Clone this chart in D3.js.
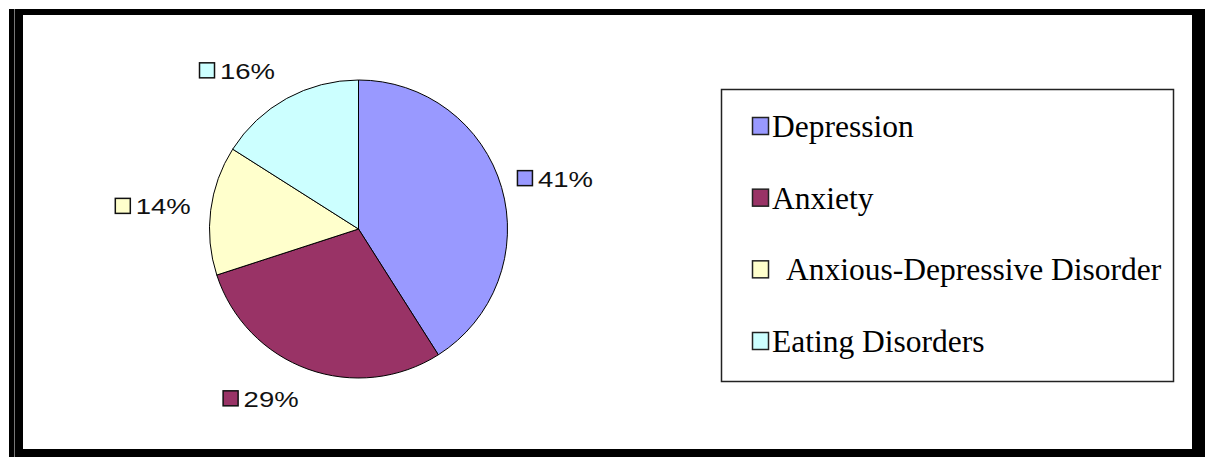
<!DOCTYPE html>
<html>
<head>
<meta charset="utf-8">
<script src="https://cdn.jsdelivr.net/npm/d3@7"></script>
<style>
  body { margin: 0; background: #fff; }
  svg { display: block; }
  .pct { font-family: 'Liberation Sans', Arial, sans-serif; font-size: 22px; fill: #111; }
  .leg { font-family: 'Liberation Serif', 'Times New Roman', serif; font-size: 31.5px; fill: #000; white-space: pre; }
</style>
</head>
<body>
<div id="chart"></div>
<script>
// data
var categories = ['Depression', 'Anxiety', 'Anxious-Depressive Disorder', 'Eating Disorders'];
var legendLabels = ['Depression', 'Anxiety', '  Anxious-Depressive Disorder', 'Eating Disorders'];
var shares = [41, 29, 14, 16];
var colors = ['#9999ff', '#993366', '#ffffcc', '#ccffff'];

var width = 1205, height = 457;

var svg = d3.select('#chart')
  .append('svg')
  .attr('width', width)
  .attr('height', height);

// frame
svg.append('rect').attr('x', 0).attr('y', 0).attr('width', width).attr('height', height).attr('fill', '#000');
svg.append('rect').attr('x', 0).attr('y', 0).attr('width', width).attr('height', 9).attr('fill', '#fff');
svg.append('rect').attr('x', 0).attr('y', 0).attr('width', 9).attr('height', height).attr('fill', '#fff');
svg.append('line').attr('x1', 14.5).attr('x2', 14.5).attr('y1', 9).attr('y2', height).attr('stroke', '#777').attr('stroke-width', 1);
svg.append('rect').attr('x', 23).attr('y', 15).attr('width', 1169).attr('height', 434).attr('fill', '#fff');

// pie
var cx = 358.5, cy = 229, r = 149;
var pie = d3.pie().sort(null).value(function(d){ return d; });
var arcs = pie(shares);
var arc = d3.arc().innerRadius(0).outerRadius(r);

var g = svg.append('g').attr('transform', 'translate(' + cx + ',' + cy + ')');

g.selectAll('path.slice')
  .data(arcs)
  .enter()
  .append('path')
  .attr('class', 'slice')
  .attr('d', arc)
  .attr('fill', function(d, i){ return colors[i]; })
  .attr('stroke', '#000')
  .attr('stroke-width', 1);

// percent labels, placed outside at mid angle
var labelRx = 165, labelRy = 172, sq = 15, gap = 6, textW = 55, boxH = 17;
var boxW = sq + gap + textW;

var labels = g.selectAll('g.lab')
  .data(arcs)
  .enter()
  .append('g')
  .attr('class', 'lab')
  .attr('transform', function(d){
    var a = (d.startAngle + d.endAngle) / 2;
    var px = labelRx * Math.sin(a), py = -labelRy * Math.cos(a);
    var left = Math.sin(a) >= 0 ? px : px - boxW - 4;
    var top = py - boxH * (1 + Math.cos(a)) / 2;
    return 'translate(' + left + ',' + top + ')';
  });

labels.append('rect')
  .attr('x', 0.5)
  .attr('y', 0.5)
  .attr('width', sq)
  .attr('height', sq)
  .attr('fill', function(d, i){ return colors[i]; })
  .attr('stroke', '#111')
  .attr('stroke-width', 1.5);

labels.append('text')
  .attr('class', 'pct')
  .attr('x', sq + gap)
  .attr('y', 16.5)
  .attr('textLength', textW)
  .attr('lengthAdjust', 'spacingAndGlyphs')
  .text(function(d){ return d.data + '%'; });

// legend
var legX = 721, legY = 89, legW = 452, legH = 292;
svg.append('rect')
  .attr('x', legX + 0.5)
  .attr('y', legY + 0.5)
  .attr('width', legW)
  .attr('height', legH)
  .attr('fill', '#fff')
  .attr('stroke', '#222')
  .attr('stroke-width', 1.5);

var rowY = d3.scalePoint().domain(categories).range([137, 352]);

var items = svg.selectAll('g.leg-item')
  .data(categories)
  .enter()
  .append('g')
  .attr('class', 'leg-item')
  .attr('transform', function(d){ return 'translate(752,' + rowY(d) + ')'; });

items.append('rect')
  .attr('x', 0.5)
  .attr('y', -19.5)
  .attr('width', 16)
  .attr('height', 17)
  .attr('fill', function(d, i){ return colors[i]; })
  .attr('stroke', '#222')
  .attr('stroke-width', 1.5);

items.append('text')
  .attr('class', 'leg')
  .attr('x', 20)
  .attr('y', 0)
  .text(function(d, i){ return legendLabels[i]; });
</script>
</body>
</html>
